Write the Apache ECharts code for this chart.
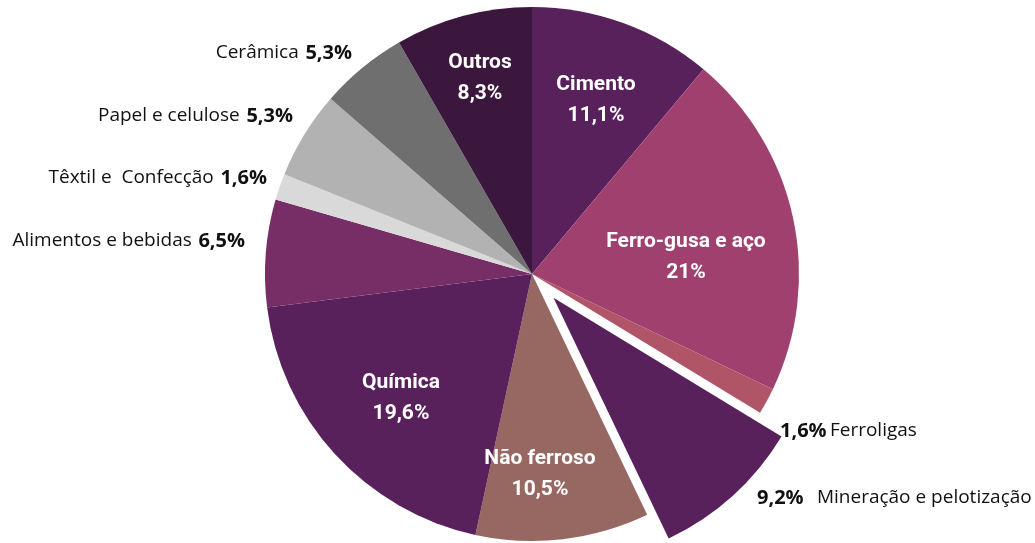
<!DOCTYPE html>
<html>
<head>
<meta charset="utf-8">
<script src="https://cdn.jsdelivr.net/npm/echarts@6/dist/echarts.min.js"></script>
<style>
  html, body { margin: 0; padding: 0; background: #fff; }
  #main { width: 1035px; height: 543px; }
</style>
</head>
<body>
<div id="main"></div>
<script>
// dados (%), na ordem horária a partir do topo
var setores = ['Cimento', 'Ferro-gusa e aço', 'Ferroligas', 'Mineração e pelotização', 'Não ferroso',
               'Química', 'Alimentos e bebidas', 'Têxtil e  Confecção', 'Papel e celulose', 'Cerâmica', 'Outros'];
var valores = [11.1, 21, 1.6, 9.2, 10.5, 19.6, 6.5, 1.6, 5.3, 5.3, 8.3];
var cores = ['#58215c', '#a0406e', '#b05468', '#58215c', '#976862',
             '#58215c', '#772d66', '#d9d9d9', '#b2b2b2', '#6f6f6f', '#3c173d'];
var destaque = 'Mineração e pelotização';

// onde fica cada rótulo: 'in' dentro da fatia, 'l' à esquerda, 'r' à direita
var tipoRotulo = ['in', 'in', 'r', 'r', 'in', 'in', 'l', 'l', 'l', 'l', 'in'];
var posRotulo = [[596, 100], [686, 257], [780, 431], [757, 498], [540, 474],
                 [401, 398], [245, 241], [267, 178], [293, 116], [352, 53], [480, 78]];

function fmt(v) {
    return (Number.isInteger(v) ? String(v) : v.toFixed(1).replace('.', ',')) + '%';
}

function texto(i) {
    var t = tipoRotulo[i], nome = setores[i];
    if (t === 'in') return '{b|' + nome + '}\n{b|' + fmt(valores[i]) + '}';
    if (t === 'l') return '{n|' + nome + '}  {v|' + fmt(valores[i]) + '}';
    if (nome === destaque) return '{v|' + fmt(valores[i]) + '}    {n|' + nome + '}';
    return '{v|' + fmt(valores[i]) + '} {n|' + nome + '}';
}

var myChart = echarts.init(document.getElementById('main'));

var estiloRotulo = {
    show: true,
    position: 'inside',
    rich: {
        b: {
            color: '#fff',
            fontFamily: 'Roboto, sans-serif',
            fontWeight: 'bold',
            fontSize: 21,
            lineHeight: 31,
            align: 'center'
        },
        n: {
            color: '#111',
            fontFamily: "'Open Sans', sans-serif",
            fontSize: 19
        },
        v: {
            color: '#111',
            fontFamily: "'Open Sans', sans-serif",
            fontWeight: 'bold',
            fontSize: 20
        }
    }
};

function layoutRotulo(params) {
    var i = params.dataIndex;
    var t = tipoRotulo[i];
    return {
        x: posRotulo[i][0],
        y: posRotulo[i][1],
        align: t === 'in' ? 'center' : (t === 'l' ? 'right' : 'left'),
        verticalAlign: 'middle'
    };
}

// série visível: fatias (a de mineração destacada), rótulos exceto o da fatia destacada
var fatias = setores.map(function (nome, i) {
    return {
        name: nome,
        value: valores[i],
        selected: nome === destaque,
        itemStyle: { color: cores[i] },
        label: { show: nome !== destaque, formatter: texto(i) }
    };
});

// série só para o rótulo da fatia destacada (fatias transparentes)
var soRotulo = setores.map(function (nome, i) {
    return {
        name: nome,
        value: valores[i],
        itemStyle: { color: 'rgba(0,0,0,0)' },
        label: { show: nome === destaque, formatter: texto(i) }
    };
});

var option = {
    animation: false,
    series: [{
        type: 'pie',
        center: [532, 274],
        radius: [0, 267],
        startAngle: 90,
        clockwise: true,
        selectedMode: 'single',
        selectedOffset: 32,
        avoidLabelOverlap: false,
        itemStyle: { borderWidth: 0 },
        emphasis: { disabled: true },
        labelLine: { show: false },
        label: estiloRotulo,
        labelLayout: layoutRotulo,
        data: fatias
    }, {
        type: 'pie',
        center: [532, 274],
        radius: [0, 267],
        startAngle: 90,
        clockwise: true,
        silent: true,
        avoidLabelOverlap: false,
        itemStyle: { borderWidth: 0 },
        emphasis: { disabled: true },
        labelLine: { show: false },
        label: estiloRotulo,
        labelLayout: layoutRotulo,
        data: soRotulo
    }]
};

myChart.setOption(option);
</script>
</body>
</html>
